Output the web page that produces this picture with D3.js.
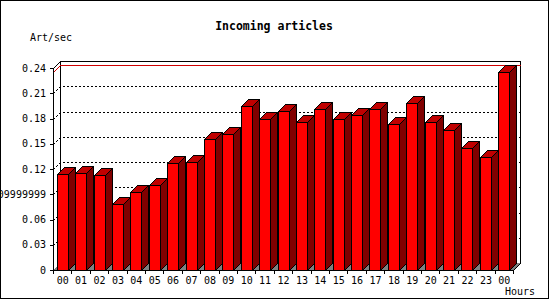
<!DOCTYPE html>
<html>
<head>
<meta charset="utf-8">
<script src="https://cdn.jsdelivr.net/npm/d3@7"></script>
<style>
  body { margin: 0; background: #fff; }
  svg { display: block; }
  text { font-family: "DejaVu Sans Mono", monospace; fill: #000; }
</style>
</head>
<body>
<script>
// hours of the day (the last one wraps round to 00 again)
var hours = ["00","01","02","03","04","05","06","07","08","09","10","11",
             "12","13","14","15","16","17","18","19","20","21","22","23","00"];
// articles per second
var articles = [0.1137, 0.1152, 0.1129, 0.0780, 0.0923, 0.1006, 0.1271, 0.1283,
                0.1556, 0.1616, 0.1948, 0.1790, 0.1889, 0.1755, 0.1909, 0.1790,
                0.1842, 0.1909, 0.1735, 0.1980, 0.1758, 0.1660, 0.1446, 0.1339, 0.2349];
var yTicks = [0, 0.03, 0.06, 0.09, 0.12, 0.15, 0.18, 0.21, 0.24];
var yTickLabels = ["0", "0.03", "0.06", "0.09999999", "0.12", "0.15", "0.18", "0.21", "0.24"];

var width = 550, height = 300;
var left = 53, right = 513, base = 270, plotTop = 68;
var depth = 7;       // 3d offset, to the right and up
var barW = 11;

var svg = d3.select("body").append("svg")
    .attr("width", width)
    .attr("height", height);

svg.append("rect")
    .attr("x", 0.5).attr("y", 0.5)
    .attr("width", 548).attr("height", 298)
    .attr("fill", "#fff").attr("stroke", "#000");

var x = d3.scaleBand()
    .domain(d3.range(hours.length))
    .range([left, right])
    .padding(0);

var y = d3.scaleLinear()
    .domain([0, 0.24])
    .range([base, plotTop]);

var g = svg.append("g").attr("shape-rendering", "crispEdges");

function px(v) { return Math.round(v) + 0.5; }

// floor
g.append("polygon")
    .attr("points", [[left, base], [right, base], [right + depth, base - depth], [left + depth, base - depth]].join(" "))
    .attr("fill", "#808080");

// back wall frame
g.append("path")
    .attr("d", "M" + px(left + depth) + "," + px(base - depth) + "V" + px(plotTop - depth) +
               "H" + px(right + depth) + "V" + px(base - depth))
    .attr("fill", "none").attr("stroke", "#000");

// dotted grid lines on the back wall
g.selectAll(".grid")
    .data(yTicks.filter(function(d) { return d > 0 && d < 0.24; }))
    .enter().append("path")
    .attr("class", "grid")
    .attr("d", function(d) {
        var yy = px(y(d));
        return "M" + px(left) + "," + yy + "L" + px(left + depth) + "," + (yy - depth) +
               "H" + px(right + depth);
    })
    .attr("fill", "none")
    .attr("stroke", "#000")
    .attr("stroke-dasharray", "2,2");

// maximum line
var maxV = d3.max(articles);
g.append("path")
    .attr("d", "M" + px(left) + "," + px(y(maxV)) + "L" + px(left + depth) + "," + (px(y(maxV)) - depth) +
               "H" + px(right + depth))
    .attr("fill", "none")
    .attr("stroke", "#d00000");

// bars
var bar = g.selectAll(".bar")
    .data(articles)
    .enter().append("g")
    .attr("class", "bar");

function fx(i) { return px(x(i) + (x.bandwidth() - barW) / 2); }

bar.append("polygon")
    .attr("points", function(d, i) {
        var x1 = fx(i) + barW, ty = px(y(d)), b = px(base);
        return [[x1, ty], [x1 + depth, ty - depth], [x1 + depth, b - depth], [x1, b]].join(" ");
    })
    .attr("fill", "#800000").attr("stroke", "#000");

bar.append("polygon")
    .attr("points", function(d, i) {
        var x0 = fx(i), x1 = x0 + barW, ty = px(y(d));
        return [[x0, ty], [x0 + depth, ty - depth], [x1 + depth, ty - depth], [x1, ty]].join(" ");
    })
    .attr("fill", "#c00000").attr("stroke", "#000");

bar.append("rect")
    .attr("x", function(d, i) { return fx(i); })
    .attr("y", function(d) { return px(y(d)); })
    .attr("width", barW)
    .attr("height", function(d) { return px(base) - px(y(d)); })
    .attr("fill", "#ff0000").attr("stroke", "#000");

// front axes
g.append("path")
    .attr("d", "M" + px(left + depth) + "," + px(plotTop - depth) + "L" + px(left) + "," + px(plotTop) +
               "V" + px(base) + "H" + px(right) + "L" + px(right + depth) + "," + px(base - depth))
    .attr("fill", "none").attr("stroke", "#000");

// y ticks and labels
g.selectAll(".ytick")
    .data(yTicks)
    .enter().append("line")
    .attr("x1", left - 3).attr("x2", left)
    .attr("y1", function(d) { return px(y(d)); })
    .attr("y2", function(d) { return px(y(d)); })
    .attr("stroke", "#000");

svg.selectAll(".ylabel")
    .data(yTicks)
    .enter().append("text")
    .attr("x", 46)
    .attr("y", function(d) { return y(d) + 3.5; })
    .attr("text-anchor", "end")
    .style("font-size", "10px")
    .text(function(d, i) { return yTickLabels[i]; });

// x ticks and labels
g.selectAll(".xtick")
    .data(d3.range(hours.length + 1))
    .enter().append("line")
    .attr("x1", function(i) { return px(left + i * x.step()); })
    .attr("x2", function(i) { return px(left + i * x.step()); })
    .attr("y1", base).attr("y2", base + 4)
    .attr("stroke", "#000");

svg.selectAll(".xlabel")
    .data(hours)
    .enter().append("text")
    .attr("x", function(d, i) { return x(i) + x.bandwidth() / 2 + 0.5; })
    .attr("y", 284)
    .attr("text-anchor", "middle")
    .style("font-size", "10px")
    .text(function(d) { return d; });

// titles
svg.append("text")
    .attr("x", 274).attr("y", 30)
    .attr("text-anchor", "middle")
    .style("font-size", "11.5px")
    .style("font-weight", "bold")
    .text("Incoming articles");

svg.append("text")
    .attr("x", 30).attr("y", 41)
    .style("font-size", "10px")
    .text("Art/sec");

svg.append("text")
    .attr("x", 505).attr("y", 295)
    .style("font-size", "10px")
    .text("Hours");
</script>
</body>
</html>
